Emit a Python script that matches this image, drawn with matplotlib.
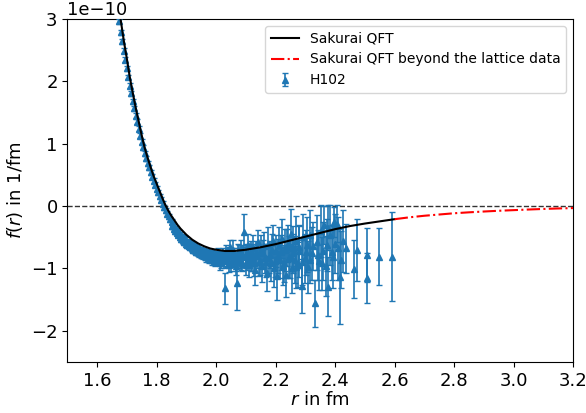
import numpy as np
import matplotlib
matplotlib.use("Agg")
import matplotlib.pyplot as plt

# Sakurai QFT curve (r in fm, f in 1e-10 1/fm)
r_fit = [1.670, 1.680, 1.690, 1.700, 1.710, 1.720, 1.730, 1.740, 1.750, 1.760,
         1.770, 1.780, 1.790, 1.800, 1.810, 1.820, 1.830, 1.840, 1.850, 1.860,
         1.870, 1.880, 1.890, 1.900, 1.920, 1.940, 1.960, 1.980, 2.000, 2.030,
         2.060, 2.100, 2.150, 2.200, 2.250, 2.300, 2.350, 2.400, 2.450, 2.500,
         2.550, 2.600]
f_fit = [3.30, 2.96, 2.64, 2.36, 2.06, 1.81, 1.57, 1.35, 1.13, 0.93,
         0.77, 0.62, 0.48, 0.36, 0.24, 0.12, 0.01, -0.08, -0.16, -0.23,
         -0.30, -0.36, -0.41, -0.46, -0.54, -0.60, -0.645, -0.68, -0.70, -0.72,
         -0.72, -0.70, -0.66, -0.61, -0.55, -0.49, -0.43, -0.37, -0.32, -0.28,
         -0.245, -0.21]

# extrapolation beyond lattice data
r_ext = [2.60, 2.65, 2.70, 2.75, 2.80, 2.85, 2.90, 2.95, 3.00, 3.05, 3.10, 3.15, 3.20]
f_ext = [-0.21, -0.18, -0.155, -0.135, -0.115, -0.10, -0.087, -0.075, -0.065,
         -0.055, -0.046, -0.038, -0.032]

# H102 lattice data
r_data = [1.670, 1.675, 1.680, 1.685, 1.690, 1.695, 1.700, 1.705, 1.710, 1.715,
          1.720, 1.725, 1.730, 1.735, 1.740, 1.745, 1.750, 1.755, 1.760, 1.765,
          1.770, 1.775, 1.780, 1.785, 1.790, 1.795, 1.800, 1.805, 1.810, 1.815,
          1.820, 1.825, 1.830, 1.835, 1.840, 1.845, 1.850, 1.855, 1.860, 1.865,
          1.870, 1.875, 1.880, 1.885, 1.890, 1.895, 1.900, 1.905, 1.910, 1.915,
          1.920, 1.925, 1.930, 1.935, 1.940, 1.945, 1.950, 1.955, 1.960, 1.965,
          1.970, 1.975, 1.980, 1.985, 1.990, 1.995,
          1.8525, 1.8575, 1.8625, 1.8675, 1.8725, 1.8775, 1.8825, 1.8875, 1.8925, 1.8975,
          1.9025, 1.9075, 1.9125, 1.9175, 1.9225, 1.9275, 1.9325, 1.9375, 1.9425, 1.9475,
          1.9525, 1.9575, 1.9625, 1.9675, 1.9725, 1.9775, 1.9825, 1.9875, 1.9925, 1.9975,
          2.002, 2.006, 2.010, 2.014, 2.018, 2.022, 2.026, 2.030, 2.034, 2.038,
          2.042, 2.046, 2.050, 2.054, 2.058, 2.062, 2.066, 2.070, 2.074, 2.078,
          2.082, 2.086, 2.090, 2.095, 2.100, 2.104, 2.108, 2.112, 2.116, 2.120,
          2.125, 2.130, 2.135, 2.140, 2.145, 2.150, 2.155, 2.160, 2.165, 2.170,
          2.175, 2.180, 2.185, 2.190, 2.195, 2.200, 2.205, 2.210, 2.215, 2.220,
          2.225, 2.230, 2.235, 2.240, 2.245, 2.250, 2.255, 2.260, 2.265, 2.270,
          2.275, 2.280, 2.287, 2.292, 2.298, 2.304, 2.310, 2.316, 2.322, 2.332,
          2.338, 2.345, 2.352, 2.360, 2.362, 2.368, 2.375, 2.377, 2.384, 2.392,
          2.395, 2.400, 2.405, 2.410, 2.416, 2.428, 2.437, 2.464, 2.472, 2.506,
          2.508, 2.547, 2.590,
          2.004, 2.012, 2.020, 2.028, 2.036, 2.044, 2.052, 2.060, 2.068, 2.076,
          2.084, 2.092, 2.102, 2.110, 2.118, 2.128, 2.138, 2.148, 2.158, 2.168,
          2.178, 2.188, 2.198, 2.208, 2.218, 2.228, 2.238, 2.248, 2.258, 2.268,
          2.278, 2.290, 2.302, 2.314, 2.326, 2.342, 2.356, 2.372, 2.388, 2.420]
f_data = [3.12, 2.96, 2.79, 2.64, 2.49, 2.35, 2.21, 2.07, 1.93, 1.81,
          1.68, 1.57, 1.45, 1.35, 1.24, 1.13, 1.03, 0.94, 0.85, 0.77,
          0.69, 0.62, 0.54, 0.47, 0.41, 0.34, 0.28, 0.22, 0.16, 0.10,
          0.04, -0.02, -0.07, -0.12, -0.16, -0.21, -0.25, -0.29, -0.32, -0.36,
          -0.39, -0.42, -0.45, -0.48, -0.50, -0.53, -0.55, -0.57, -0.59, -0.61,
          -0.63, -0.64, -0.66, -0.67, -0.69, -0.70, -0.71, -0.72, -0.73, -0.74,
          -0.75, -0.76, -0.76, -0.77, -0.78, -0.78,
          -0.32, -0.36, -0.40, -0.43, -0.46, -0.50, -0.52, -0.55, -0.58, -0.60,
          -0.62, -0.64, -0.66, -0.68, -0.70, -0.71, -0.73, -0.74, -0.76, -0.77,
          -0.78, -0.79, -0.80, -0.82, -0.82, -0.84, -0.85, -0.86, -0.86, -0.88,
          -0.80, -0.74, -0.86, -0.78, -0.90, -0.76, -0.84, -1.32, -0.72, -0.88,
          -0.80, -0.66, -0.92, -0.78, -0.70, -0.86, -0.96, -1.24, -0.74, -0.84,
          -0.68, -0.92, -0.80, -0.41, -0.76, -0.88, -0.62, -0.94, -0.72, -0.82,
          -0.66, -1.02, -0.74, -0.58, -0.90, -0.70, -0.96, -0.64, -0.84, -1.08,
          -0.60, -0.78, -0.92, -0.56, -1.00, -0.72, -1.12, -0.62, -0.86, -0.52,
          -0.96, -0.70, -1.10, -0.60, -0.82, -0.44, -1.00, -0.68, -0.86, -0.56,
          -0.94, -0.72, -1.28, -0.50, -0.84, -0.62, -0.98, -0.46, -0.76, -1.56,
          -0.58, -0.88, -0.40, -0.72, -0.30, -0.96, -0.35, -1.29, -0.46, -0.82,
          -0.25, -0.60, -0.28, -0.68, -1.13, -0.56, -0.68, -1.01, -0.70, -0.78,
          -1.16, -0.81, -0.81,
          -0.84, -0.92, -0.82, -0.88, -0.78, -0.94, -0.86, -0.80, -0.90, -0.76,
          -0.88, -0.82, -0.94, -0.78, -0.86, -0.92, -0.80, -0.88, -0.76, -0.90,
          -0.84, -0.70, -0.88, -0.80, -0.74, -0.92, -0.66, -0.84, -0.76, -0.98,
          -0.66, -0.90, -0.74, -0.86, -0.64, -0.78, -0.92, -0.62, -0.74, -0.86]
e_data = [0.04, 0.04, 0.04, 0.04, 0.04, 0.04, 0.04, 0.04, 0.04, 0.04,
          0.04, 0.04, 0.04, 0.04, 0.04, 0.04, 0.04, 0.04, 0.04, 0.04,
          0.04, 0.04, 0.04, 0.04, 0.04, 0.04, 0.04, 0.04, 0.04, 0.04,
          0.04, 0.04, 0.04, 0.04, 0.04, 0.04, 0.04, 0.04, 0.04, 0.04,
          0.04, 0.04, 0.04, 0.04, 0.04, 0.05, 0.05, 0.05, 0.05, 0.05,
          0.05, 0.05, 0.05, 0.05, 0.05, 0.05, 0.05, 0.05, 0.05, 0.05,
          0.06, 0.06, 0.06, 0.06, 0.06, 0.06,
          0.04, 0.04, 0.04, 0.04, 0.04, 0.04, 0.05, 0.05, 0.05, 0.05,
          0.05, 0.05, 0.05, 0.05, 0.06, 0.06, 0.06, 0.06, 0.06, 0.06,
          0.06, 0.06, 0.07, 0.07, 0.07, 0.07, 0.07, 0.08, 0.08, 0.08,
          0.06, 0.07, 0.08, 0.06, 0.10, 0.08, 0.12, 0.25, 0.10, 0.09,
          0.14, 0.12, 0.12, 0.10, 0.15, 0.11, 0.14, 0.42, 0.13, 0.16,
          0.14, 0.12, 0.18, 0.28, 0.16, 0.14, 0.18, 0.20, 0.16, 0.22,
          0.20, 0.24, 0.18, 0.20, 0.22, 0.24, 0.26, 0.22, 0.24, 0.28,
          0.26, 0.22, 0.28, 0.26, 0.30, 0.26, 0.38, 0.28, 0.30, 0.32,
          0.30, 0.34, 0.36, 0.30, 0.34, 0.40, 0.40, 0.36, 0.38, 0.40,
          0.36, 0.42, 0.43, 0.38, 0.40, 0.44, 0.42, 0.40, 0.42, 0.38,
          0.44, 0.46, 0.42, 0.46, 0.30, 0.48, 0.36, 0.48, 0.48, 0.50,
          0.24, 0.48, 0.30, 0.50, 0.76, 0.50, 0.40, 0.47, 0.50, 0.43,
          0.40, 0.46, 0.71,
          0.08, 0.10, 0.09, 0.11, 0.10, 0.12, 0.12, 0.13, 0.14, 0.14,
          0.15, 0.16, 0.17, 0.18, 0.18, 0.20, 0.20, 0.22, 0.22, 0.24,
          0.24, 0.26, 0.26, 0.28, 0.28, 0.30, 0.30, 0.32, 0.32, 0.34,
          0.34, 0.36, 0.36, 0.38, 0.38, 0.40, 0.42, 0.42, 0.44, 0.46]

scale = 1e-10

fig, ax = plt.subplots(figsize=(5.86, 4.13), dpi=100)
fig.subplots_adjust(left=0.115, right=0.978, top=0.954, bottom=0.1235)

ax.plot(r_fit, np.array(f_fit) * scale, color="k", lw=1.5, label="Sakurai QFT", zorder=4)
ax.plot(r_ext, np.array(f_ext) * scale, color="r", lw=1.5, ls="-.",
        label="Sakurai QFT beyond the lattice data", zorder=4)
ax.errorbar(r_data, np.array(f_data) * scale, yerr=np.array(e_data) * scale,
            fmt="^", color="#1f77b4", ms=4.5, capsize=2, elinewidth=1.2,
            label="H102", zorder=3)
ax.axhline(0, color="k", ls="--", lw=1, alpha=0.8)

ax.set_xlim(1.5, 3.2)
ax.set_ylim(-2.5e-10, 3e-10)
ax.set_xlabel(r"$r$ in fm", fontsize=13, labelpad=1)
ax.set_ylabel(r"$f(r)$ in 1/fm", fontsize=13)
ax.tick_params(labelsize=13)
ax.yaxis.get_offset_text().set_fontsize(13)
ax.legend(loc="upper right", fontsize=10)

fig.savefig("out.png", dpi=100)
